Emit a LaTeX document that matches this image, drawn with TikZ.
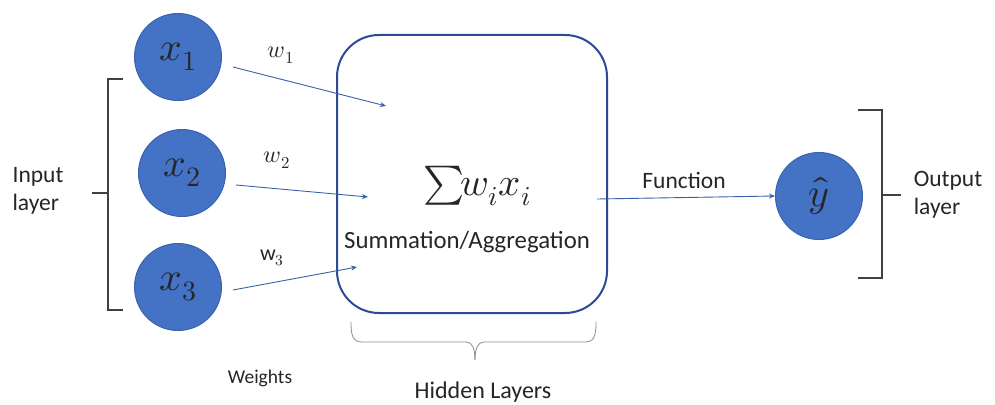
\documentclass[tikz,border=0pt]{standalone}
\usepackage{fontspec}
\usepackage{unicode-math}
\setmainfont{Carlito}
\setmathfont{Latin Modern Math}
\usetikzlibrary{arrows.meta}
\definecolor{nodeblue}{HTML}{4472C4}
\definecolor{nodeedge}{HTML}{3A62AE}
\definecolor{boxblue}{HTML}{2F4A94}
\definecolor{txt}{HTML}{262626}
\tikzset{
  neuron/.style={circle, fill=nodeblue, draw=nodeedge, line width=1pt, minimum size=87pt, inner sep=0pt, text=black!85, font=\fontsize{40}{40}\selectfont},
  conn/.style={draw=nodeblue!85!black, line width=0.9pt, -{Stealth[length=6pt,width=5pt]}},
  lbl/.style={text=txt, inner sep=0pt},
  brack/.style={draw=black!75, line width=1.1pt},
  hbrack/.style={draw=black!45, line width=0.8pt}
}
\begin{document}
\begin{tikzpicture}[x=1pt,y=-1pt]
\useasboundingbox (0,0) rectangle (995,404);
\fill[white] (0,0) rectangle (995,404);
% hidden box
\node[draw=boxblue, line width=2pt, rounded corners=42pt, minimum width=270pt, minimum height=278pt, fill=white] (box) at (472,174) {};
% neurons
\node[neuron] (x1) at (178,57) {$x_1$};
\node[neuron] (x2) at (182,173) {$x_2$};
\node[neuron] (x3) at (178,287) {$x_3$};
\node[neuron] (y) at (819,196) {$\hat{y}$};
% arrow targets
\coordinate (t1) at (386,106);
\coordinate (t2) at (368,197);
\coordinate (t3) at (357,267);
\coordinate (s1) at (233,67);
\coordinate (s2) at (236,185);
\coordinate (s3) at (233,290);
\draw[conn] (s1) -- (t1);
\draw[conn] (s2) -- (t2);
\draw[conn] (s3) -- (t3);
\coordinate (fs) at (597,199);
\draw[conn] (fs) -- (y.west);
% labels
\node[lbl, font=\fontsize{24}{24}\selectfont] (w1) at (281,55) {$w_1$};
\node[lbl, font=\fontsize{24}{24}\selectfont] (w2) at (277,160) {$w_2$};
\node[lbl, font=\fontsize{22}{22}\selectfont] (w3) at (272,258) {$\mathrm{w}_3$};
\node[lbl, font=\fontsize{19.5}{19.5}\selectfont] (wts) at (260,378) {Weights};
\node[lbl, font=\fontsize{23.5}{23.5}\selectfont] (fn) at (684,180) {Function};
\node[lbl, font=\fontsize{39}{39}\selectfont] (sum) at (477,186) {${\textstyle\sum}\mkern-1.5mu w_i x_i$};
\node[lbl, font=\fontsize{24.8}{24.8}\selectfont] (agg) at (467,242) {Summation/Aggregation};
\node[lbl, font=\fontsize{24}{24}\selectfont] (hid) at (483,392) {Hidden Layers};
\node[lbl, font=\fontsize{23.5}{28}\selectfont, align=left] (inl) at (38,191) {Input\\layer};
\node[lbl, font=\fontsize{23.5}{28}\selectfont, align=left] (outl) at (948,195) {Output\\layer};
% left bracket
\draw[brack] (123,79) -- (108,79) -- (108,310) -- (123,310);
\draw[brack] (92,193) -- (108,193);
% right bracket
\draw[brack] (858,110) -- (882,110) -- (882,278) -- (858,278);
\draw[brack] (882,195) -- (901,195);
% hidden brace
\draw[hbrack] (351,322) .. controls (351,336) and (353,342) .. (362,342) -- (466,342) .. controls (472,342) and (475,348) .. (475,360);
\draw[hbrack] (596,322) .. controls (596,336) and (594,342) .. (585,342) -- (484,342) .. controls (478,342) and (475,348) .. (475,360);
\end{tikzpicture}
\end{document}
